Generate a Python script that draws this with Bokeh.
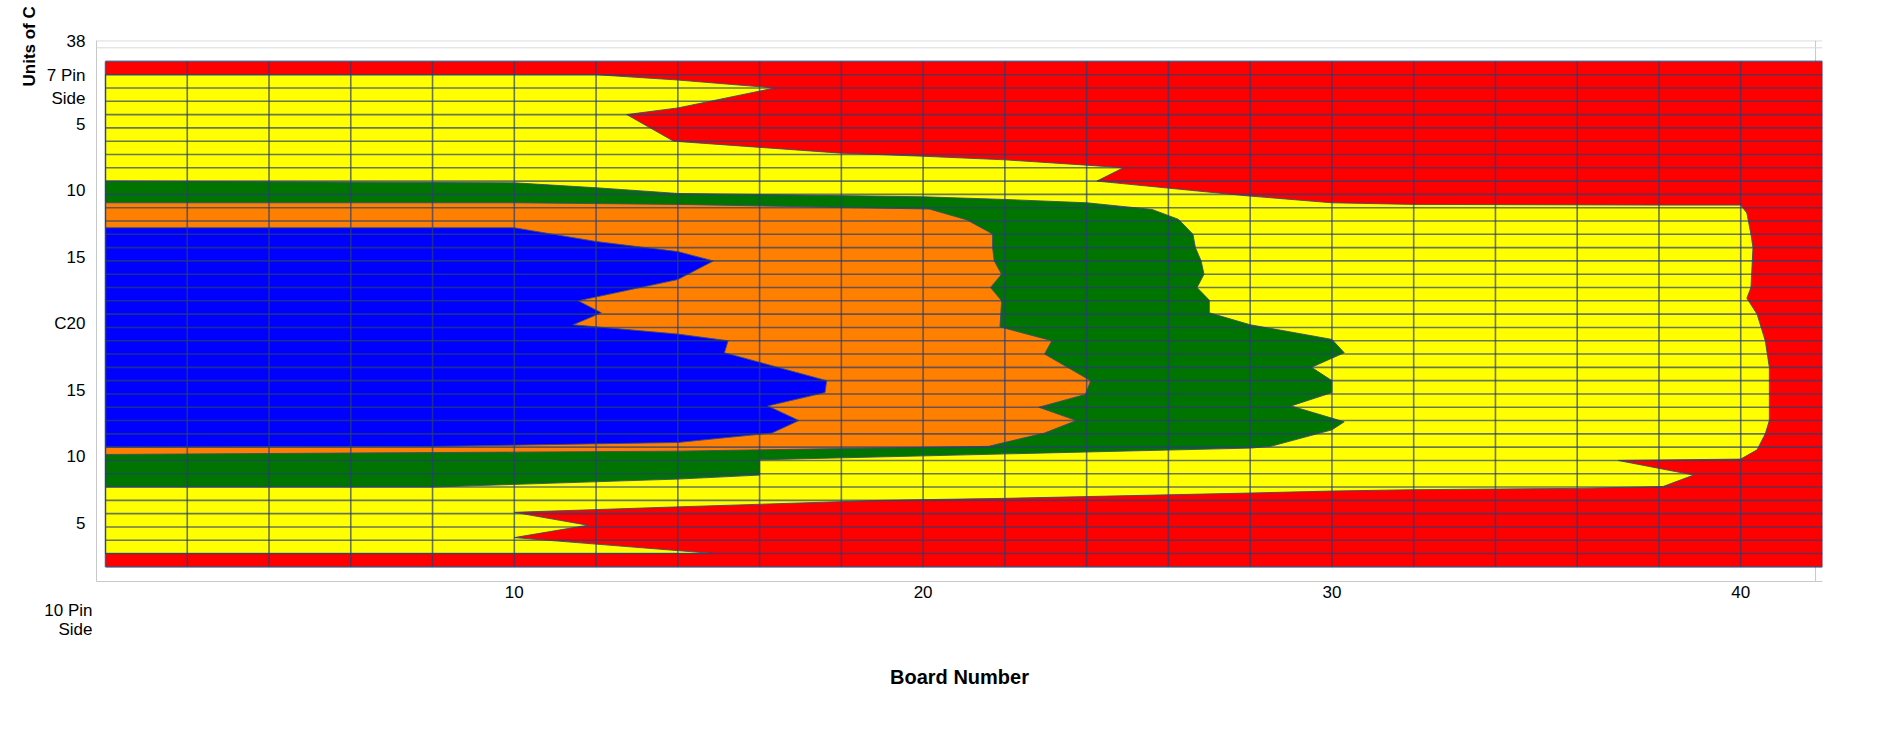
from bokeh.plotting import figure
from bokeh.models import Range1d, FixedTicker, Span, Title, LinearAxis
from bokeh.embed import file_html
from bokeh.resources import INLINE

# ---- data extents (board number on x, unit row on y) ----
board_min, board_max = 0, 42
unit_min, unit_max = 0, 38
row_units = list(range(unit_min, unit_max + 1))
col_boards = list(range(board_min, board_max + 1, 2))

# ---- x axis ticks ----
x_ticks = [10, 20, 30, 40]

# ---- y axis tick labels ----
y_label_pos = [3.27, 8.27, 13.27, 18.27, 23.27, 28.27, 33.27, 36.05, 39.5]
y_label_text = ["5", "10", "15", "C20", "15", "10", "5", "7 Pin\nSide", "38"]
bottom_label_text = "10 Pin\n\u00a0\u00a0\u00a0Side"
y_title = "Units of C"
x_title = "Board Number"

# ---- band outlines (board, unit) ----
# yellow: everything that is not red
yellow_x = [0, 14.9, 10, 11.8, 10, 13.9, 19, 22, 28, 30, 32, 34, 36, 38.1, 38.85, 37.0,
            40.0, 40.4, 40.6, 40.7, 40.7, 40.7, 40.6, 40.4, 40.15, 40.25, 40.3, 40.25,
            40.15, 40.0, 38, 32, 30, 27.9, 24.25, 24.9, 24.0, 22.0, 20.0, 18.0, 13.9,
            12.75, 14.0, 16.37, 14.0, 12.0, 0]
yellow_y = [1, 1, 2.2, 3.13, 4.1, 4.5, 5.0, 5.15, 5.55, 5.7, 5.8, 5.85, 5.9, 6.04, 6.9, 8.0,
            8.1, 8.8, 10, 11, 13, 15, 17, 19, 20.2, 21, 24, 25,
            26.6, 27.2, 27.2, 27.25, 27.37, 27.9, 29.0, 30.0, 30.2, 30.6, 30.87, 31.1, 32.0,
            34.0, 34.5, 36.0, 36.6, 37.0, 37.0]

# green: green + orange + blue
green_x = [0, 8, 14, 16, 16, 28, 28.5, 30.0, 30.3, 29.0, 30.0, 30.0, 29.5, 30.3, 30.0,
           28.0, 27.0, 27.0, 26.7, 26.87, 26.8, 26.66, 26.6, 26.25, 25.6, 24.0, 22.0,
           20.0, 14.0, 12.0, 10.0, 0]
green_y = [6.0, 6.0, 6.6, 6.9, 8.05, 8.93, 9.06, 10.3, 10.9, 12.1, 13.1, 14.0, 15.0, 16.1, 17.1,
           18.2, 19.1, 20.05, 21, 22, 23, 24, 25, 26.12, 26.87, 27.37, 27.62,
           27.82, 28.07, 28.5, 28.87, 29.0]

# orange: orange + blue
orange_x = [0, 14, 21.6, 22.97, 23.75, 22.83, 23.97, 24.1, 22.97, 23.15, 21.88, 21.92,
            21.65, 21.92, 21.74, 21.7, 21.7, 21.6, 21.06, 20.15, 14, 10, 0]
orange_y = [8.45, 8.7, 9.06, 10.06, 11.0, 12.0, 12.96, 14.0, 16.0, 17.0, 18.04, 20.0,
            21.0, 22.0, 23.0, 24.0, 25.0, 25.2, 26.1, 26.9, 27.25, 27.37, 27.37]

# blue
blue_x = [0, 8, 14, 16.3, 16.96, 16.2, 17.6, 17.64, 15.14, 15.23, 14.0, 11.44, 12.13,
          11.56, 14.0, 14.87, 14.0, 12.0, 10.0, 0]
blue_y = [9.0, 9.05, 9.35, 10.06, 11.0, 12.1, 13.1, 14.0, 16.1, 17.0, 17.5, 18.2, 19.1,
          20.0, 21.6, 23.0, 23.7, 24.46, 25.49, 25.49]

RED, YELLOW, GREEN, ORANGE, BLUE = "#FF0000", "#FFFF00", "#007400", "#FF8000", "#0000FF"
FONT = "Liberation Sans"
FRAME_COL = "#c8c8c8"

W, H = 1877, 728
p = figure(width=W, height=H,
           x_range=Range1d(-0.22, 42.0), y_range=Range1d(-1.1, 39.57),
           output_backend="svg", toolbar_location=None,
           min_border_left=96, min_border_right=55, min_border_top=40, min_border_bottom=147)
p.outline_line_color = None
p.xgrid.visible = False
p.ygrid.visible = False
p.background_fill_color = "white"
p.border_fill_color = "white"

# frame lines (right one sits just inside the data edge, hidden behind the data)
p.add_layout(Span(location=41.83, dimension="height", line_color=FRAME_COL, line_width=1,
                  level="underlay"))
p.add_layout(Span(location=39.55, dimension="width", line_color=FRAME_COL, line_width=1))
p.add_layout(Span(location=39.02, dimension="width", line_color="#d8d8d8", line_width=1))

# red background of the data area
p.quad(left=[board_min], right=[board_max], bottom=[unit_min], top=[unit_max],
       fill_color=RED, line_color=None)

for xs, ys, col in [(yellow_x, yellow_y, YELLOW), (green_x, green_y, GREEN),
                    (orange_x, orange_y, ORANGE), (blue_x, blue_y, BLUE)]:
    p.patch(xs, ys, fill_color=col, line_color="#3c4c70", line_width=1, line_alpha=0.9)

GRID_COL = "#2a3f70"
n_r = len(row_units)
p.segment(x0=[board_min] * n_r, x1=[board_max] * n_r, y0=row_units, y1=row_units,
          line_color=GRID_COL, line_alpha=0.7, line_width=1.6)
n_c = len(col_boards)
p.segment(x0=col_boards, x1=col_boards, y0=[unit_min] * n_c, y1=[unit_max] * n_c,
          line_color=GRID_COL, line_alpha=0.7, line_width=1.6)

# x axis (tick numbers only)
xa = p.xaxis[0]
xa.ticker = FixedTicker(ticks=x_ticks)
xa.major_label_overrides = {t: str(t) for t in x_ticks}
xa.axis_line_color = FRAME_COL
xa.major_tick_line_color = None
xa.minor_tick_line_color = None
xa.major_label_standoff = -2
xa.major_label_text_font = FONT
xa.major_label_text_font_size = "17px"
xa.major_label_text_color = "#000000"

# "10 Pin Side" under the axis, to the left of the plot
p.add_layout(Title(text=bottom_label_text, align="right", offset=1730, standoff=0,
                   vertical_align="top", text_font=FONT, text_font_size="17px",
                   text_font_style="normal", text_color="#000000"), "below")

# second bottom axis only carries the axis title
xa2 = LinearAxis(ticker=FixedTicker(ticks=[]), axis_label=x_title)
xa2.axis_line_color = None
xa2.major_tick_line_color = None
xa2.minor_tick_line_color = None
xa2.axis_label_text_font = FONT
xa2.axis_label_text_font_size = "20px"
xa2.axis_label_text_font_style = "bold"
xa2.axis_label_text_color = "#000000"
xa2.axis_label_standoff = 25
p.add_layout(xa2, "below")

# y axis
ya = p.yaxis[0]
ya.ticker = FixedTicker(ticks=y_label_pos)
ya.major_label_overrides = dict(zip(y_label_pos, y_label_text))
ya.axis_line_color = FRAME_COL
ya.major_tick_line_color = None
ya.minor_tick_line_color = None
ya.major_label_standoff = 5
ya.major_label_text_font = FONT
ya.major_label_text_font_size = "17px"
ya.major_label_text_color = "#000000"

p.add_layout(Title(text=y_title, align="left", offset=495, standoff=10,
                   text_font=FONT, text_font_size="17px", text_font_style="bold",
                   text_color="#000000"), "left")

open("out.html", "w").write(file_html(p, INLINE))
